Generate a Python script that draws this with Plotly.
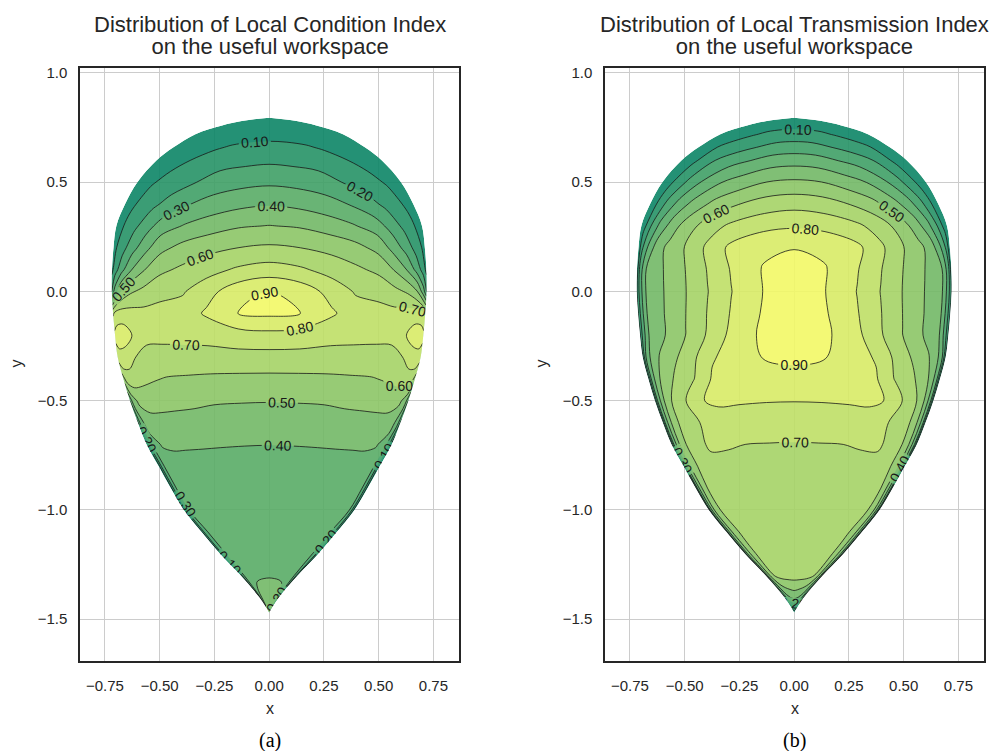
import numpy as np
import plotly.graph_objects as go

# ---------------- data ----------------
# fraction of the half-width of the workspace across each row (right half; mirrored)
U_HALF = [0.0, 0.2, 0.4, 0.55, 0.7, 0.8, 0.88, 0.94, 0.98, 1.0]
# rows of the useful workspace (y) and its half-width on each row (boundary)
ROW_Y = [0.795, 0.78, 0.76, 0.72, 0.66, 0.60, 0.50, 0.40, 0.30, 0.20, 0.10, 0.00,
         -0.10, -0.20, -0.30, -0.40, -0.50, -0.60, -0.70, -0.80, -0.90, -1.00,
         -1.10, -1.20, -1.30, -1.40, -1.47]
HALF_WIDTH = [0.0, 0.125, 0.215, 0.337, 0.437, 0.515, 0.602, 0.658, 0.698, 0.711, 0.718, 0.719,
              0.713, 0.704, 0.692, 0.666, 0.636, 0.60, 0.56, 0.505, 0.45, 0.39,
              0.31, 0.225, 0.13, 0.045, 0.0]

# Local Condition Index, one list per row (values at U_HALF positions)
LCI_ROWS = [
    [0.0, 0.0, 0.0, 0.0, 0.0, 0.0, 0.0, 0.0, 0.0, 0.0],
    [0.014, 0.014, 0.013, 0.012, 0.01, 0.008, 0.006, 0.004, 0.002, 0.0],
    [0.033, 0.032, 0.03, 0.027, 0.022, 0.017, 0.012, 0.007, 0.003, 0.0],
    [0.069, 0.067, 0.06, 0.05, 0.04, 0.029, 0.02, 0.012, 0.005, 0.0],
    [0.125, 0.12, 0.108, 0.09, 0.066, 0.05, 0.034, 0.02, 0.008, 0.0],
    [0.18, 0.17, 0.156, 0.13, 0.1, 0.07, 0.045, 0.025, 0.009, 0.0],
    [0.282, 0.27, 0.245, 0.2, 0.16, 0.127, 0.09, 0.05, 0.018, 0.0],
    [0.391, 0.375, 0.34, 0.298, 0.23, 0.18, 0.14, 0.083, 0.03, 0.0],
    [0.503, 0.49, 0.45, 0.41, 0.35, 0.256, 0.175, 0.12, 0.044, 0.0],
    [0.616, 0.6, 0.57, 0.535, 0.468, 0.36, 0.257, 0.165, 0.1, 0.03],
    [0.742, 0.715, 0.66, 0.62, 0.575, 0.49, 0.39, 0.26, 0.15, 0.07],
    [0.905, 0.86, 0.76, 0.69, 0.667, 0.627, 0.585, 0.505, 0.34, 0.2],
    [0.92, 0.9, 0.815, 0.745, 0.735, 0.73, 0.74, 0.75, 0.74, 0.68],
    [0.77, 0.76, 0.73, 0.72, 0.72, 0.725, 0.79, 0.85, 0.85, 0.83],
    [0.664, 0.665, 0.668, 0.675, 0.672, 0.67, 0.7, 0.755, 0.77, 0.75],
    [0.577, 0.578, 0.58, 0.585, 0.593, 0.61, 0.63, 0.655, 0.64, 0.55],
    [0.504, 0.506, 0.51, 0.522, 0.529, 0.536, 0.54, 0.52, 0.44, 0.3],
    [0.452, 0.453, 0.457, 0.462, 0.468, 0.47, 0.468, 0.44, 0.33, 0.18],
    [0.401, 0.402, 0.404, 0.406, 0.408, 0.41, 0.405, 0.36, 0.2, 0.04],
    [0.375, 0.376, 0.377, 0.378, 0.378, 0.377, 0.37, 0.33, 0.18, 0.0],
    [0.36, 0.36, 0.361, 0.362, 0.362, 0.36, 0.35, 0.31, 0.17, 0.0],
    [0.352, 0.352, 0.353, 0.354, 0.354, 0.35, 0.34, 0.3, 0.16, 0.0],
    [0.35, 0.35, 0.351, 0.351, 0.35, 0.345, 0.32, 0.27, 0.14, 0.0],
    [0.355, 0.355, 0.355, 0.354, 0.35, 0.34, 0.3, 0.24, 0.12, 0.0],
    [0.39, 0.388, 0.385, 0.378, 0.36, 0.34, 0.3, 0.23, 0.11, 0.0],
    [0.48, 0.475, 0.46, 0.45, 0.42, 0.38, 0.32, 0.24, 0.12, 0.0],
    [0.5, 0.49, 0.47, 0.45, 0.42, 0.38, 0.32, 0.24, 0.12, 0.0],
]

# Local Transmission Index, one list per row
LTI_ROWS = [
    [0.0, 0.0, 0.0, 0.0, 0.0, 0.0, 0.0, 0.0, 0.0, 0.0],
    [0.028, 0.027, 0.025, 0.023, 0.02, 0.015, 0.009, 0.006, 0.002, 0.0],
    [0.065, 0.063, 0.056, 0.041, 0.028, 0.019, 0.011, 0.006, 0.002, 0.0],
    [0.137, 0.132, 0.114, 0.089, 0.063, 0.043, 0.026, 0.013, 0.004, 0.0],
    [0.246, 0.235, 0.198, 0.164, 0.13, 0.102, 0.065, 0.031, 0.009, 0.0],
    [0.354, 0.34, 0.295, 0.254, 0.2, 0.136, 0.083, 0.046, 0.019, 0.0],
    [0.519, 0.504, 0.448, 0.398, 0.307, 0.223, 0.143, 0.076, 0.028, 0.0],
    [0.666, 0.647, 0.593, 0.534, 0.433, 0.338, 0.23, 0.13, 0.046, 0.0],
    [0.788, 0.77, 0.725, 0.659, 0.552, 0.448, 0.325, 0.189, 0.065, 0.0],
    [0.897, 0.885, 0.827, 0.725, 0.607, 0.532, 0.456, 0.31, 0.165, 0.0],
    [0.932, 0.905, 0.807, 0.706, 0.594, 0.525, 0.46, 0.407, 0.24, 0.03],
    [0.953, 0.9, 0.797, 0.697, 0.589, 0.521, 0.458, 0.407, 0.24, 0.08],
    [0.96, 0.909, 0.809, 0.708, 0.595, 0.525, 0.46, 0.407, 0.24, 0.08],
    [0.96, 0.92, 0.83, 0.72, 0.603, 0.53, 0.461, 0.407, 0.24, 0.08],
    [0.92, 0.905, 0.85, 0.783, 0.647, 0.576, 0.514, 0.438, 0.29, 0.06],
    [0.866, 0.866, 0.85, 0.82, 0.685, 0.625, 0.555, 0.47, 0.3, 0.06],
    [0.803, 0.805, 0.81, 0.815, 0.79, 0.67, 0.6, 0.485, 0.31, 0.06],
    [0.743, 0.745, 0.755, 0.762, 0.71, 0.65, 0.6, 0.49, 0.32, 0.06],
    [0.695, 0.697, 0.70, 0.705, 0.71, 0.66, 0.6, 0.49, 0.31, 0.06],
    [0.685, 0.685, 0.685, 0.685, 0.68, 0.65, 0.595, 0.5, 0.35, 0.05],
    [0.678, 0.678, 0.678, 0.677, 0.67, 0.645, 0.6, 0.49, 0.33, 0.05],
    [0.672, 0.672, 0.672, 0.67, 0.66, 0.635, 0.59, 0.49, 0.32, 0.05],
    [0.665, 0.665, 0.665, 0.66, 0.645, 0.61, 0.55, 0.46, 0.3, 0.05],
    [0.66, 0.66, 0.658, 0.65, 0.63, 0.59, 0.51, 0.42, 0.28, 0.05],
    [0.645, 0.643, 0.64, 0.63, 0.6, 0.55, 0.47, 0.38, 0.25, 0.05],
    [0.43, 0.42, 0.4, 0.38, 0.35, 0.3, 0.25, 0.2, 0.12, 0.04],
    [0.04, 0.04, 0.04, 0.04, 0.04, 0.04, 0.04, 0.04, 0.04, 0.04],
]

TITLE_LINE1 = ["Distribution of Local Condition Index",
               "Distribution of Local Transmission Index"]
TITLE_LINE2 = "on the useful workspace"
PANEL_TAGS = ["(a)", "(b)"]
X_TICKS = [-0.75, -0.5, -0.25, 0.0, 0.25, 0.5, 0.75]
Y_TICKS = [-1.5, -1.0, -0.5, 0.0, 0.5, 1.0]
X_RANGE = [-0.864, 0.867]
Y_RANGE = [-1.693, 1.024]

# ---------------- build carpet geometry from the boundary data ----------------
a_vals = [-u for u in U_HALF[::-1][:-1]] + U_HALF           # -1 .. 1
b_vals = ROW_Y[::-1]                                        # increasing
half_w = np.array(HALF_WIDTH[::-1])
A = np.array(a_vals)
X = np.outer(half_w, A)
Y = np.repeat(np.array(b_vals)[:, None], len(A), axis=1)


def full_grid(rows):
    out = [r[::-1][:-1] + r for r in rows]
    return out[::-1]


W, H = 991, 751
PANELS = [(80, 459), (605, 984)]
TOP, BOTTOM = 65, 661
FONT = "Liberation Sans, Arial, sans-serif"

# summer colormap mapped to band centres 0.05 .. 0.95
COLORSCALE = [[0.0, "rgb(13,134,102)"], [1.0, "rgb(242,249,102)"]]

fig = go.Figure()
for k, rows in enumerate([LCI_ROWS, LTI_ROWS]):
    xa = "x" if k == 0 else "x2"
    ya = "y" if k == 0 else "y2"
    cid = "c%d" % k
    hidden = dict(showgrid=False, showline=False, startline=False, endline=False,
                  showticklabels="none", minorgridcount=0, smoothing=1,
                  gridwidth=0, linewidth=0)
    fig.add_trace(go.Carpet(carpet=cid, a=a_vals, b=b_vals, x=X, y=Y,
                            xaxis=xa, yaxis=ya, aaxis=hidden, baxis=hidden))
    fig.add_trace(go.Contourcarpet(
        carpet=cid, a=a_vals, b=b_vals, z=full_grid(rows),
        xaxis=xa, yaxis=ya, autocontour=False,
        contours=dict(start=0.1, end=0.9, size=0.1, coloring="fill",
                      showlines=True, showlabels=True,
                      labelfont=dict(family=FONT, size=14, color="black"),
                      labelformat=".2f"),
        line=dict(color="black", width=0.8, smoothing=1.0),
        colorscale=COLORSCALE, showscale=False, opacity=0.9))

layout = dict(width=W, height=H, margin=dict(l=0, r=0, t=0, b=0),
              paper_bgcolor="white", plot_bgcolor="white", showlegend=False,
              font=dict(family=FONT, color="#262626"))
for k, (x0, x1) in enumerate(PANELS):
    sx = "" if k == 0 else "2"
    layout["xaxis" + sx] = dict(domain=[x0 / W, x1 / W], range=X_RANGE, anchor="y" + sx,
                                tickvals=X_TICKS, tickformat=".2f", showgrid=True,
                                gridcolor="#cccccc", gridwidth=1, zeroline=False,
                                showline=True, linecolor="#262626", linewidth=1.5, mirror=True,
                                ticks="", ticklabelstandoff=10,
                                tickfont=dict(family=FONT, size=15, color="#262626"))
    layout["yaxis" + sx] = dict(domain=[1 - BOTTOM / H, 1 - TOP / H], range=Y_RANGE,
                                anchor="x" + sx, tickvals=Y_TICKS, tickformat=".1f",
                                showgrid=True, gridcolor="#cccccc", gridwidth=1,
                                zeroline=False, showline=True, linecolor="#262626",
                                linewidth=1.5, mirror=True, ticks="", ticklabelstandoff=8,
                                tickfont=dict(family=FONT, size=15, color="#262626"))
fig.update_layout(**layout)

ann = []
for k, (x0, x1) in enumerate(PANELS):
    cx = (x0 + x1) / 2 / W
    title = ("<span style='font-size:22px'>%s</span><br>"
             "<span style='font-size:22px'>%s</span>") % (TITLE_LINE1[k], TITLE_LINE2)
    ann.append(dict(text=title, x=cx, y=1 - 33 / H, xref="paper", yref="paper",
                    xanchor="center", yanchor="middle", showarrow=False,
                    font=dict(family=FONT, size=17, color="#262626")))
    ann.append(dict(text="x", x=cx, y=1 - 708 / H, xref="paper", yref="paper",
                    xanchor="center", yanchor="middle", showarrow=False,
                    font=dict(family=FONT, size=16, color="#262626")))
    ann.append(dict(text="y", x=(x0 - 63) / W, y=1 - 362 / H, xref="paper", yref="paper",
                    xanchor="center", yanchor="middle", showarrow=False, textangle=-90,
                    font=dict(family=FONT, size=16, color="#262626")))
    ann.append(dict(text=PANEL_TAGS[k], x=cx, y=1 - 740 / H, xref="paper", yref="paper",
                    xanchor="center", yanchor="middle", showarrow=False,
                    font=dict(family="Liberation Serif, Times New Roman", size=20, color="black")))
fig.update_layout(annotations=ann)

fig.write_html("out.html")
